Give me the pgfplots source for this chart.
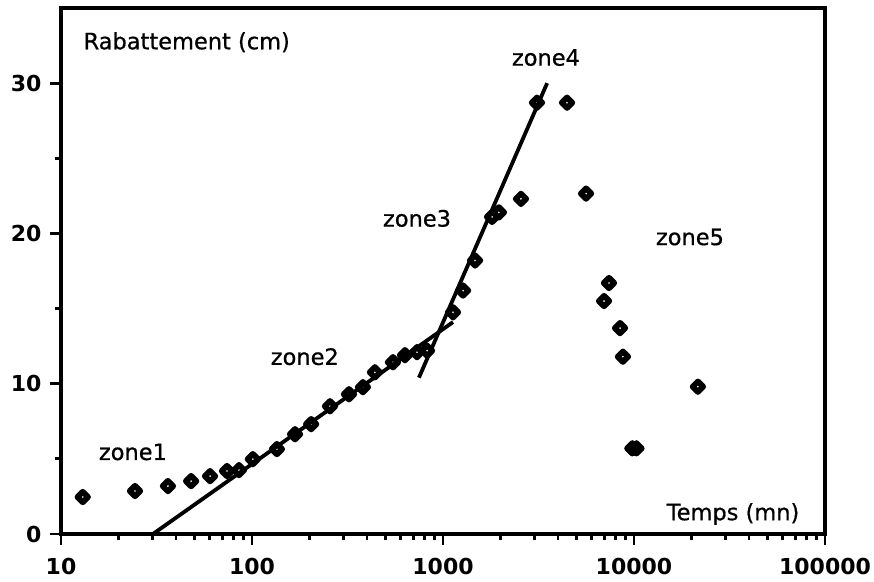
\documentclass[border=0pt]{standalone}
\usepackage{fontspec}
\setmainfont{DejaVu Sans}
\newfontfamily\txtfont[FakeBold=0.7]{DejaVu Sans}
\usepackage{pgfplots}
\pgfplotsset{compat=1.18}
\begin{document}
\begin{tikzpicture}
\begin{axis}[name=ax, scale only axis, width=764pt, height=526pt,
  xmode=log, xmin=10, xmax=100000, ymin=0, ymax=35,
  xtick={10,100,1000,10000,100000},
  xticklabels={10,100,1000,10000,100000},
  minor xtick={20,30,40,50,60,70,80,90,200,300,400,500,600,700,800,900,2000,3000,4000,5000,6000,7000,8000,9000,20000,30000,40000,50000,60000,70000,80000,90000},
  ytick={0,10,20,30}, yticklabels={0,10,20,30},
  minor ytick={5,15,25},
  tick pos=left, tick align=outside,
  major tick length=11pt, minor tick length=6pt,
  axis line style={line width=3.2pt},
  every tick/.style={black, line width=2.8pt},
  ticklabel style={font=\fontsize{22}{22}\selectfont\bfseries},
  xticklabel style={yshift=-10pt},
  yticklabel style={xshift=-5pt},
  clip=false,
]
\addplot[black, line width=3.8pt] coordinates {(30.3,0) (1128,14.1)};
\addplot[black, line width=3.8pt] coordinates {(748,10.4) (3509,30.0)};
\addplot[only marks, mark=square, mark size=3.7pt, mark options={black, line width=5.8pt, rotate=45, line join=round}] coordinates {
(13.0,2.46) (24.4,2.86) (36.3,3.19) (48.0,3.52) (60.3,3.85) (74.0,4.19) (85.5,4.25) (101,4.98) (135,5.65) (168,6.64) (204,7.31) (256,8.5) (322,9.3) (381,9.77) (440,10.76) (547,11.43) (632,11.9) (731,12.1) (825,12.2) (1128,14.75) (1274,16.2) (1472,18.2) (1806,21.1) (1963,21.4) (2560,22.3) (3105,28.7) (4460,28.7) (5610,22.65) (6970,15.5) (7396,16.7) (8450,13.7) (8750,11.8) (9800,5.7) (10300,5.7) (21600,9.8)
};
\node[anchor=west, font=\txtfont\fontsize{22.5}{22.5}\selectfont] at (rel axis cs:0.0249,0.935) {Rabattement (cm)};
\node[anchor=east, font=\txtfont\fontsize{22.5}{22.5}\selectfont] at (rel axis cs:0.971,0.038) {Temps (mn)};
\node[font=\txtfont\fontsize{22.5}{22.5}\selectfont] at (axis cs:23.8,5.46) {zone1};
\node[font=\txtfont\fontsize{22.5}{22.5}\selectfont] at (axis cs:189,11.8) {zone2};
\node[font=\txtfont\fontsize{22.5}{22.5}\selectfont] at (axis cs:731,21.0) {zone3};
\node[font=\txtfont\fontsize{22.5}{22.5}\selectfont] at (axis cs:3459,31.7) {zone4};
\node[font=\txtfont\fontsize{22.5}{22.5}\selectfont] at (axis cs:19630,19.76) {zone5};
\end{axis}
\pgfresetboundingbox
\path ([shift={(-61pt,-47pt)}]ax.south west) rectangle ([shift={(49pt,8pt)}]ax.north east);
\end{tikzpicture}
\end{document}
